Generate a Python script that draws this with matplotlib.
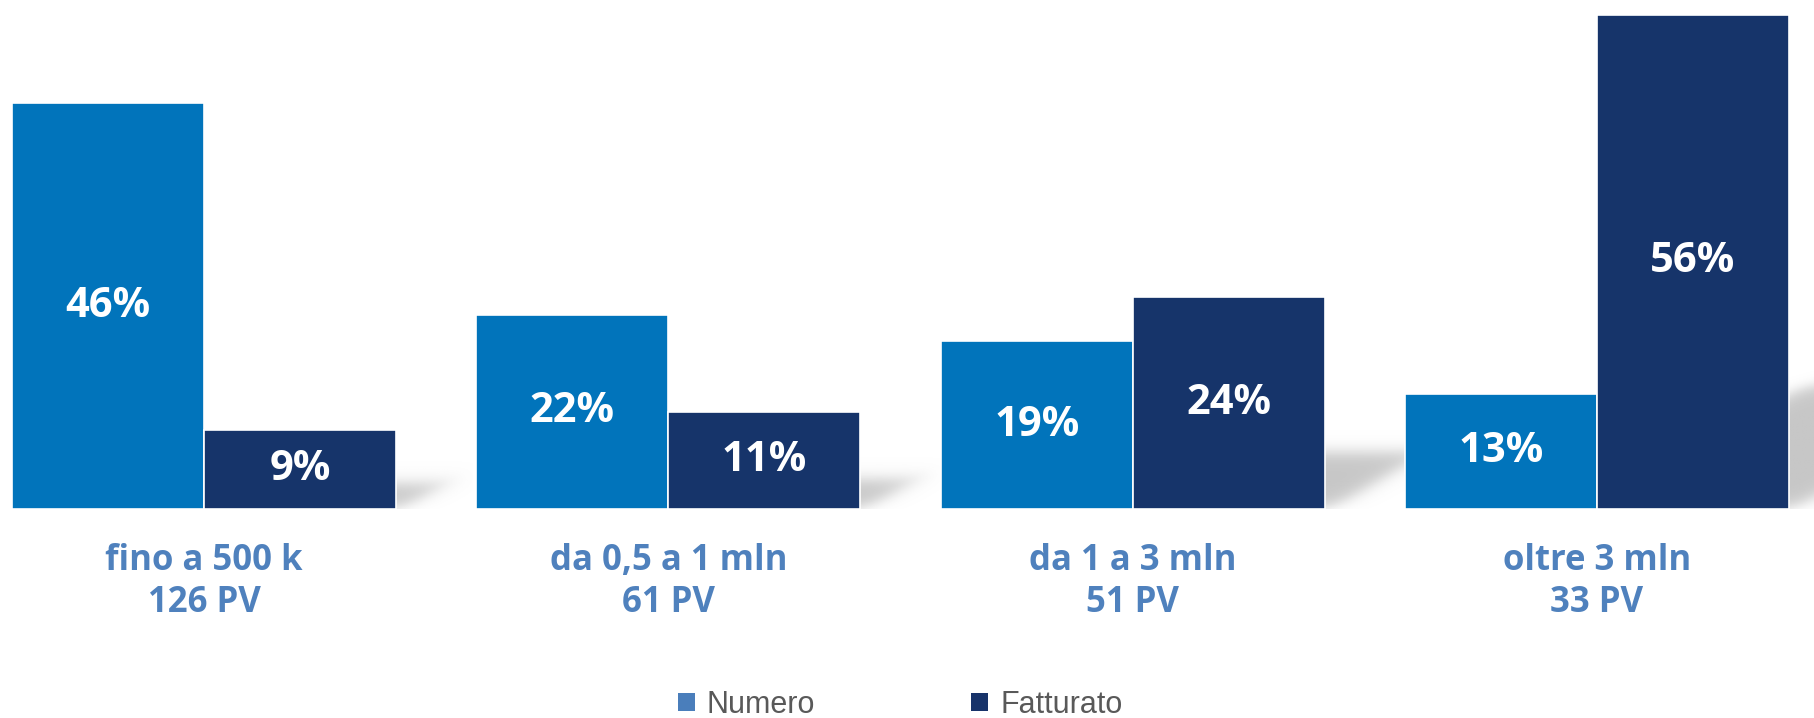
import numpy as np
import matplotlib
matplotlib.use("Agg")
import matplotlib.pyplot as plt
from matplotlib.patches import Patch
from matplotlib.transforms import blended_transform_factory

categories = ["fino a 500 k\n126 PV", "da 0,5 a 1 mln\n61 PV", "da 1 a 3 mln\n51 PV", "oltre 3 mln\n33 PV"]
numero = [46, 22, 19, 13]
fatturato = [9, 11, 24, 56]
series_names = ["Numero", "Fatturato"]

c_num = "#0174BB"
c_fat = "#16346A"
c_cat = "#4F81BD"
leg_num = "#4A7EBB"
leg_fat = "#17336A"

W, H, DPI = 1814, 718, 100
fig = plt.figure(figsize=(W / DPI, H / DPI), dpi=DPI)
base_px = 509
y0 = 1 - base_px / H
YMAX = 57.7
XL, XR = -0.4393, 3.4674
ax = fig.add_axes([0, y0, 1, 1 - y0])
ax.axis("off")

x = np.arange(len(categories))
bw = 0.4135
off = 0.2067

px_x = W / (XR - XL)              # pixels per data unit in x
px_y = (H * (1 - y0)) / YMAX      # pixels per % in y

# soft perspective shadows behind the Fatturato bars
m, k, s = 0.24, 0.40, 4.5
sl = m / k
cperp = sl / np.sqrt(1 + sl ** 2)
sig = lambda d: 1 / (1 + np.exp(-d / s))
for xi, h in zip(x, fatturato):
    xr = xi + off + bw / 2
    hp = h * px_y
    bwp = bw * px_x
    top = m * hp + 6
    ulo, uhi = -20, top / sl + 35
    vlo, vhi = -15, top + 25
    u = np.linspace(ulo, uhi, 300)
    v = np.linspace(vlo, vhi, 260)
    U, V = np.meshgrid(u, v)
    xx = U - V / sl
    inside = sig(V) * sig(top - V) * sig((-xx + 6) * cperp) * sig((xx + bwp) * cperp)
    alpha = 0.55 * inside
    img = np.zeros(U.shape + (4,))
    img[..., 0:3] = 0.6
    img[..., 3] = alpha
    ax.imshow(img, origin="lower", aspect="auto", interpolation="bilinear",
              extent=[xr + ulo / px_x, xr + uhi / px_x, vlo / px_y, vhi / px_y], zorder=1)
ax.set_xlim(XL, XR)
ax.set_ylim(0, YMAX)

b1 = ax.bar(x - off, numero, width=bw, color=c_num, edgecolor="white", linewidth=1.2, zorder=3)
b2 = ax.bar(x + off, fatturato, width=bw, color=c_fat, edgecolor="white", linewidth=1.2, zorder=3)

for bars, vals in ((b1, numero), (b2, fatturato)):
    for r, v in zip(bars, vals):
        ax.text(r.get_x() + r.get_width() / 2, v / 2, f"{v}%", ha="center", va="center",
                color="white", fontsize=30, fontweight="bold", family="Open Sans", zorder=4)

tr = blended_transform_factory(ax.transData, fig.transFigure)
for xi, lab in zip(x, categories):
    ax.text(xi, 1 - 582 / H, lab, transform=tr, ha="center", va="center",
            color=c_cat, fontsize=25, fontweight="bold", family="Open Sans",
            linespacing=1.22, clip_on=False)

handles = [Patch(facecolor=leg_num, edgecolor="none"), Patch(facecolor=leg_fat, edgecolor="none")]
fig.legend(handles, series_names, loc="center", bbox_to_anchor=(900 / W, 1 - 705 / H),
           ncol=2, frameon=False, prop={"family": "Liberation Sans", "size": 22},
           labelcolor="#595959", handlelength=0.55, handleheight=0.55, handletextpad=0.4,
           columnspacing=5.1)

fig.savefig("out.png", dpi=DPI, facecolor="white")
